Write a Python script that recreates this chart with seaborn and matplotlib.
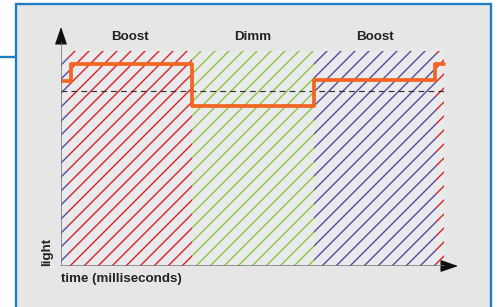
import matplotlib
matplotlib.use("Agg")
import matplotlib.pyplot as plt
from matplotlib.patches import Rectangle
from matplotlib.lines import Line2D
import seaborn as sns
import pandas as pd

# phases of the drive cycle (time in ms, hatched bands)
PHASE_NAMES = ["Boost", "Dimm", "Boost"]
BAND_EDGES = [0.0, 0.7, 13.1, 25.3, 37.5, 38.3]
BAND_COLORS = ["#5a4a9f", "#d8232a", "#8cc63f", "#5a4a9f", "#d8232a"]
BAND_TOP = 21.5

# light output (step signal)
STEP_TIME = [0.0, 1.0, 13.1, 25.3, 37.4, 38.3]
STEP_LIGHT = [18.5, 20.2, 15.95, 18.55, 20.2, 20.2]
MEAN_LIGHT = 17.5

DPI = 84
W, H = 499, 307

sns.set_style("white")
plt.rcParams["font.family"] = ["Liberation Sans Narrow", "Liberation Sans", "DejaVu Sans"]
plt.rcParams["hatch.linewidth"] = 1.2

fig = plt.figure(figsize=(W / DPI, H / DPI), dpi=DPI)
fig.patch.set_facecolor("white")

# framed panel
fig.patches.append(Rectangle((16 / W, -0.05), (491 - 16) / W, 1.05 - 4 / H,
                             transform=fig.transFigure, facecolor="#e6e6e6",
                             edgecolor="#1f7dc2", linewidth=2.0, zorder=-10))
fig.lines.append(Line2D([0, 16 / W], [1 - 57 / H, 1 - 57 / H], transform=fig.transFigure,
                        color="#1f7dc2", linewidth=2.0, zorder=-10))

ax = fig.add_axes([61 / W, 1 - 266 / H, (458 - 61) / W, (266 - 27) / H])
ax.set_zorder(5)
ax.set_facecolor("none")
ax.set_xlim(0, 39.7)
ax.set_ylim(0, 23.9)
for s in ax.spines.values():
    s.set_visible(False)
ax.set_xticks([])
ax.set_yticks([])

# hatched phase bands
for i, c in enumerate(BAND_COLORS):
    ax.fill_between([BAND_EDGES[i], BAND_EDGES[i + 1]], 0, BAND_TOP,
                    facecolor="#e9eaeb", edgecolor=c, hatch="//", linewidth=0, zorder=1)

# phase labels centred over the main bands
for i, name in enumerate(PHASE_NAMES):
    xc = (BAND_EDGES[i + 1] + BAND_EDGES[i + 2]) / 2
    ax.text(xc, 22.9, name, ha="center", va="center", fontsize=11.5,
            fontweight="bold", color="#222222")

# mean level
ax.plot([STEP_TIME[0], STEP_TIME[-1]], [MEAN_LIGHT, MEAN_LIGHT], color="#333333",
        linewidth=1.0, dashes=(5, 3.5), zorder=3)

# light signal
df = pd.DataFrame({"time": STEP_TIME, "light": STEP_LIGHT})
sns.lineplot(data=df, x="time", y="light", drawstyle="steps-post", color="#f26522",
             linewidth=3.2, estimator=None, sort=False, ax=ax, zorder=4)
ax.set_xlabel("")
ax.set_ylabel("")

# axes with arrow heads
ax.plot([0, 0], [0, 22.3], color="#777777", linewidth=1.3, zorder=5)
ax.plot([0, 38.3], [0, 0], color="#777777", linewidth=1.3, zorder=5)
ax.annotate("", xy=(0, 23.9), xytext=(0, 22.2),
            arrowprops=dict(arrowstyle="-|>,head_length=1.3,head_width=0.45",
                            color="#111111", shrinkA=0, shrinkB=0, mutation_scale=10))
ax.annotate("", xy=(39.7, 0), xytext=(38.2, 0),
            arrowprops=dict(arrowstyle="-|>,head_length=1.3,head_width=0.45",
                            color="#111111", shrinkA=0, shrinkB=0, mutation_scale=10))

fig.text(61 / W, 1 - 279 / H, "time (milliseconds)", ha="left", va="center",
         fontsize=11.5, fontweight="bold", color="#222222", zorder=6)
fig.text(47 / W, 1 - 252 / H, "light", ha="center", va="center", rotation=90,
         fontsize=11.5, fontweight="bold", color="#222222", zorder=6)

fig.savefig("out.png", dpi=DPI)
